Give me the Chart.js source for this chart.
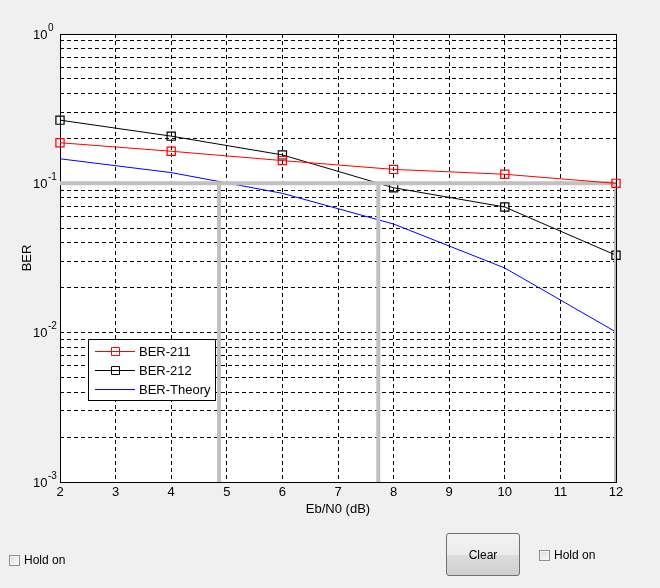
<!DOCTYPE html>
<html>
<head>
<meta charset="utf-8">
<script src="https://cdn.jsdelivr.net/npm/chart.js@4/dist/chart.umd.min.js"></script>
<style>
  html, body { margin: 0; padding: 0; background: #f0f0f0; }
  #wrap { position: relative; width: 660px; height: 588px; overflow: hidden; font-family: "Liberation Sans", Arial, sans-serif; }
  #c { position: absolute; left: 0; top: 0; }
  .chk { position: absolute; font-size: 12px; color: #000; display: flex; align-items: center; }
  .chk .box { width: 11px; height: 11px; border: 1px solid #8e8f8f; background: linear-gradient(135deg, #dcdcdc, #fbfbfb); box-sizing: border-box; margin-right: 4px; box-shadow: inset 0 0 0 1px #f4f4f4; }
  #clear { position: absolute; left: 446px; top: 533px; width: 74px; height: 43px; box-sizing: border-box; border: 1px solid #707070; border-radius: 3px;
    background: linear-gradient(#f2f2f2 0%, #ebebeb 50%, #dddddd 51%, #cfcfcf 100%); font-size: 12px; display: flex; align-items: center; justify-content: center; color: #000; }
</style>
</head>
<body>
<div id="wrap">
  <canvas id="c" width="660" height="588"></canvas>
  <div class="chk" style="left:9px; top:553px;"><span class="box"></span><span>Hold on</span></div>
  <div id="clear">Clear</div>
  <div class="chk" style="left:539px; top:548px;"><span class="box"></span><span>Hold on</span></div>
</div>
<script>
// ---- data ----
const ebn0 = [2, 4, 6, 8, 10, 12];
const ber211 = [0.187, 0.164, 0.142, 0.124, 0.115, 0.100];
const ber212 = [0.265, 0.207, 0.155, 0.0934, 0.0694, 0.033];
const berTheory = [0.146, 0.118, 0.0857, 0.0534, 0.0271, 0.0101];
const seriesNames = ['BER-211', 'BER-212', 'BER-Theory'];
const thresholdBER = 0.1;
const crossingX = [4.86, 7.725];
const xRange = [2, 12];
const yRange = [0.001, 1];
const xTicks = [2, 3, 4, 5, 6, 7, 8, 9, 10, 11, 12];
const yDecadeExps = [0, -1, -2, -3];

const seriesColors = ['#ff0000', '#000000', '#0000ff'];
const seriesMarkers = [true, true, false];

const pts = ys => ebn0.map((x, i) => ({x, y: ys[i]}));

const yTickValues = [];
for (let e = -3; e < 0; e++) for (let k = 1; k <= 9; k++) yTickValues.push(k * Math.pow(10, e));
yTickValues.push(1);

const FONT = '"Liberation Sans", Arial, sans-serif';
const GRAY = '#c0c0c0';

const datasets = [
  {label: seriesNames[0], data: pts(ber211), borderColor: seriesColors[0], borderWidth: 1, pointStyle: 'rect', pointRadius: 5.8,
   pointBorderWidth: 1.2, pointBorderColor: seriesColors[0], pointBackgroundColor: 'rgba(0,0,0,0)', tension: 0, order: 0, clip: false},
  {label: seriesNames[1], data: pts(ber212), borderColor: seriesColors[1], borderWidth: 1, pointStyle: 'rect', pointRadius: 5.8,
   pointBorderWidth: 1.2, pointBorderColor: seriesColors[1], pointBackgroundColor: 'rgba(0,0,0,0)', tension: 0, order: 2, clip: false},
  {label: seriesNames[2], data: pts(berTheory), borderColor: seriesColors[2], borderWidth: 1, pointRadius: 0, tension: 0, order: 3},
  {label: 'thr', data: [{x: xRange[0], y: thresholdBER}, {x: xRange[1], y: thresholdBER}, {x: xRange[1], y: yRange[0]}],
   borderColor: GRAY, borderWidth: 4, pointRadius: 0, tension: 0, order: 1, borderCapStyle: 'butt', borderJoinStyle: 'miter'},
  ...crossingX.map(cx => ({label: 'thr', data: [{x: cx, y: thresholdBER}, {x: cx, y: yRange[0]}],
   borderColor: GRAY, borderWidth: 4, pointRadius: 0, tension: 0, order: 1, borderCapStyle: 'butt'}))
];

const decorPlugin = {
  id: 'decor',
  beforeDraw(chart) {
    const {ctx, chartArea: a} = chart;
    ctx.save();
    ctx.fillStyle = '#f0f0f0';
    ctx.fillRect(0, 0, chart.width, chart.height);
    ctx.fillStyle = '#ffffff';
    ctx.fillRect(a.left, a.top, a.right - a.left, a.bottom - a.top);
    ctx.restore();
  },
  beforeDatasetsDraw(chart) {
    const {ctx, chartArea: a} = chart;
    ctx.save();
    ctx.strokeStyle = '#000';
    ctx.lineWidth = 1;
    ctx.setLineDash([]);
    ctx.strokeRect(Math.round(a.left) + 0.5, Math.round(a.top) + 0.5, Math.round(a.right - a.left), Math.round(a.bottom - a.top));
    ctx.restore();
  },
  afterDraw(chart) {
    const {ctx, scales} = chart;
    const ys = scales.y;
    ctx.save();
    ctx.setLineDash([]);
    // y decade labels 10^n
    ctx.fillStyle = '#000';
    ctx.textBaseline = 'middle';
    ctx.textAlign = 'left';
    yDecadeExps.forEach(e => {
      const py = ys.getPixelForValue(Math.pow(10, e));
      ctx.font = '13px ' + FONT;
      ctx.fillText('10', 33, py + 1);
      const w = ctx.measureText('10').width;
      ctx.font = '10px ' + FONT;
      ctx.fillText(String(e), 33 + w + 0.5, py - 6);
    });
    // legend
    const lx = 88, ly = 339, lw = 127, lh = 61;
    ctx.fillStyle = '#fff';
    ctx.fillRect(lx, ly, lw, lh);
    ctx.strokeStyle = '#000000';
    ctx.lineWidth = 1;
    ctx.strokeRect(lx + 0.5, ly + 0.5, lw, lh);
    for (let i = 0; i < 3; i++) {
      const ry = ly + 12 + i * 19 + 0.5;
      ctx.strokeStyle = seriesColors[i];
      ctx.lineWidth = 1;
      ctx.beginPath();
      ctx.moveTo(95, ry);
      ctx.lineTo(135, ry);
      ctx.stroke();
      if (seriesMarkers[i]) {
        ctx.beginPath();
        ctx.rect(111.5, ry - 4, 8, 8);
        ctx.stroke();
      }
      ctx.fillStyle = '#000';
      ctx.font = '13px ' + FONT;
      ctx.textBaseline = 'middle';
      ctx.fillText(seriesNames[i], 139, ry + 1);
    }
    ctx.restore();
  }
};

new Chart(document.getElementById('c'), {
  type: 'line',
  data: {datasets},
  options: {
    responsive: false,
    animation: false,
    parsing: true,
    layout: {padding: {left: 0, top: 34, right: 44, bottom: 0}},
    plugins: {legend: {display: false}, tooltip: {enabled: false}},
    elements: {line: {fill: false}},
    scales: {
      x: {
        type: 'linear', min: xRange[0], max: xRange[1],
        afterBuildTicks: s => { s.ticks = xTicks.map(v => ({value: v})); },
        ticks: {autoSkip: false, maxRotation: 0, color: '#000', font: {family: FONT, size: 13}, padding: 3,
          callback: v => String(v)},
        grid: {color: '#000', lineWidth: 1, drawTicks: false},
        border: {display: false, dash: [4, 3]},
        title: {display: true, text: 'Eb/N0 (dB)', color: '#000', font: {family: FONT, size: 13}, padding: {top: 0, bottom: 71}},
        afterFit: s => { s.height = 106; }
      },
      y: {
        type: 'logarithmic', min: yRange[0], max: yRange[1],
        afterBuildTicks: s => { s.ticks = yTickValues.map(v => ({value: v})); },
        ticks: {autoSkip: false, callback: () => '', font: {family: FONT, size: 13}},
        grid: {color: '#000', lineWidth: 1, drawTicks: false},
        border: {display: false, dash: [4, 3]},
        title: {display: true, text: 'BER', color: '#000', font: {family: FONT, size: 13}, padding: {top: 20, bottom: 0}},
        afterFit: s => { s.width = 60; }
      }
    }
  },
  plugins: [decorPlugin]
});
</script>
</body>
</html>
